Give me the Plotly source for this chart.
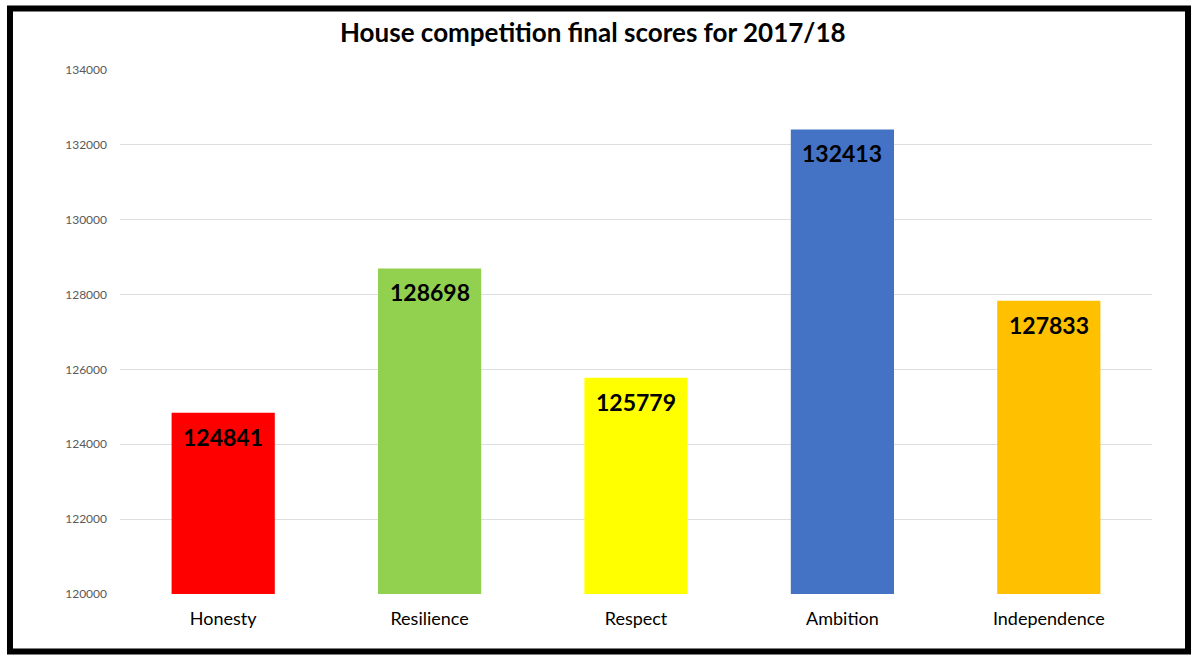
import plotly.graph_objects as go

houses = ["Honesty", "Resilience", "Respect", "Ambition", "Independence"]
scores = [124841, 128698, 125779, 132413, 127833]
bar_colors = ["#FF0000", "#92D050", "#FFFF00", "#4472C4", "#FFC000"]
y_ticks = [120000, 122000, 124000, 126000, 128000, 130000, 132000, 134000]

FONT = "Lato, 'Open Sans', sans-serif"

fig = go.Figure(
    go.Bar(
        x=houses,
        y=scores,
        marker=dict(color=bar_colors, line=dict(width=0)),
        width=0.5,
        hoverinfo="x+y",
    )
)

# value labels just under the top of each bar
for house, score in zip(houses, scores):
    fig.add_annotation(
        x=house,
        y=score,
        text=f"<b>{score}</b>",
        showarrow=False,
        yanchor="top",
        yshift=-8,
        font=dict(family=FONT, size=23, color="black"),
    )

fig.update_layout(
    width=1200,
    height=659,
    paper_bgcolor="white",
    plot_bgcolor="white",
    margin=dict(l=120, r=48, t=70, b=65),
    showlegend=False,
    font=dict(family=FONT),
    title=dict(
        text="<b>House competition final scores for 2017/18</b>",
        x=0.494,
        xanchor="center",
        y=0.95,
        yanchor="middle",
        font=dict(family=FONT, size=26, color="black"),
    ),
    xaxis=dict(
        showgrid=False,
        showline=False,
        ticks="",
        ticklabelstandoff=12,
        tickfont=dict(family=FONT, size=18, color="black"),
    ),
    yaxis=dict(
        range=[120000, 134000],
        tickvals=y_ticks,
        ticktext=[str(v) for v in y_ticks],
        showgrid=True,
        gridcolor="#DEDEDE",
        gridwidth=1,
        zeroline=False,
        showline=False,
        ticks="",
        ticklabelstandoff=12,
        tickfont=dict(family=FONT, size=12, color="#595959"),
    ),
    # thick black frame round the whole picture
    shapes=[
        dict(
            type="rect",
            xref="paper",
            yref="paper",
            x0=-0.1066,
            x1=1.0349,
            y0=-0.1097,
            y1=1.1174,
            line=dict(color="black", width=6),
            fillcolor="rgba(0,0,0,0)",
        )
    ],
)

# page body has a default margin, drop it so the figure sits at 0,0
fig.write_html(
    "out.html",
    config={"displayModeBar": False},
    post_script="document.body.style.margin='0';",
)
